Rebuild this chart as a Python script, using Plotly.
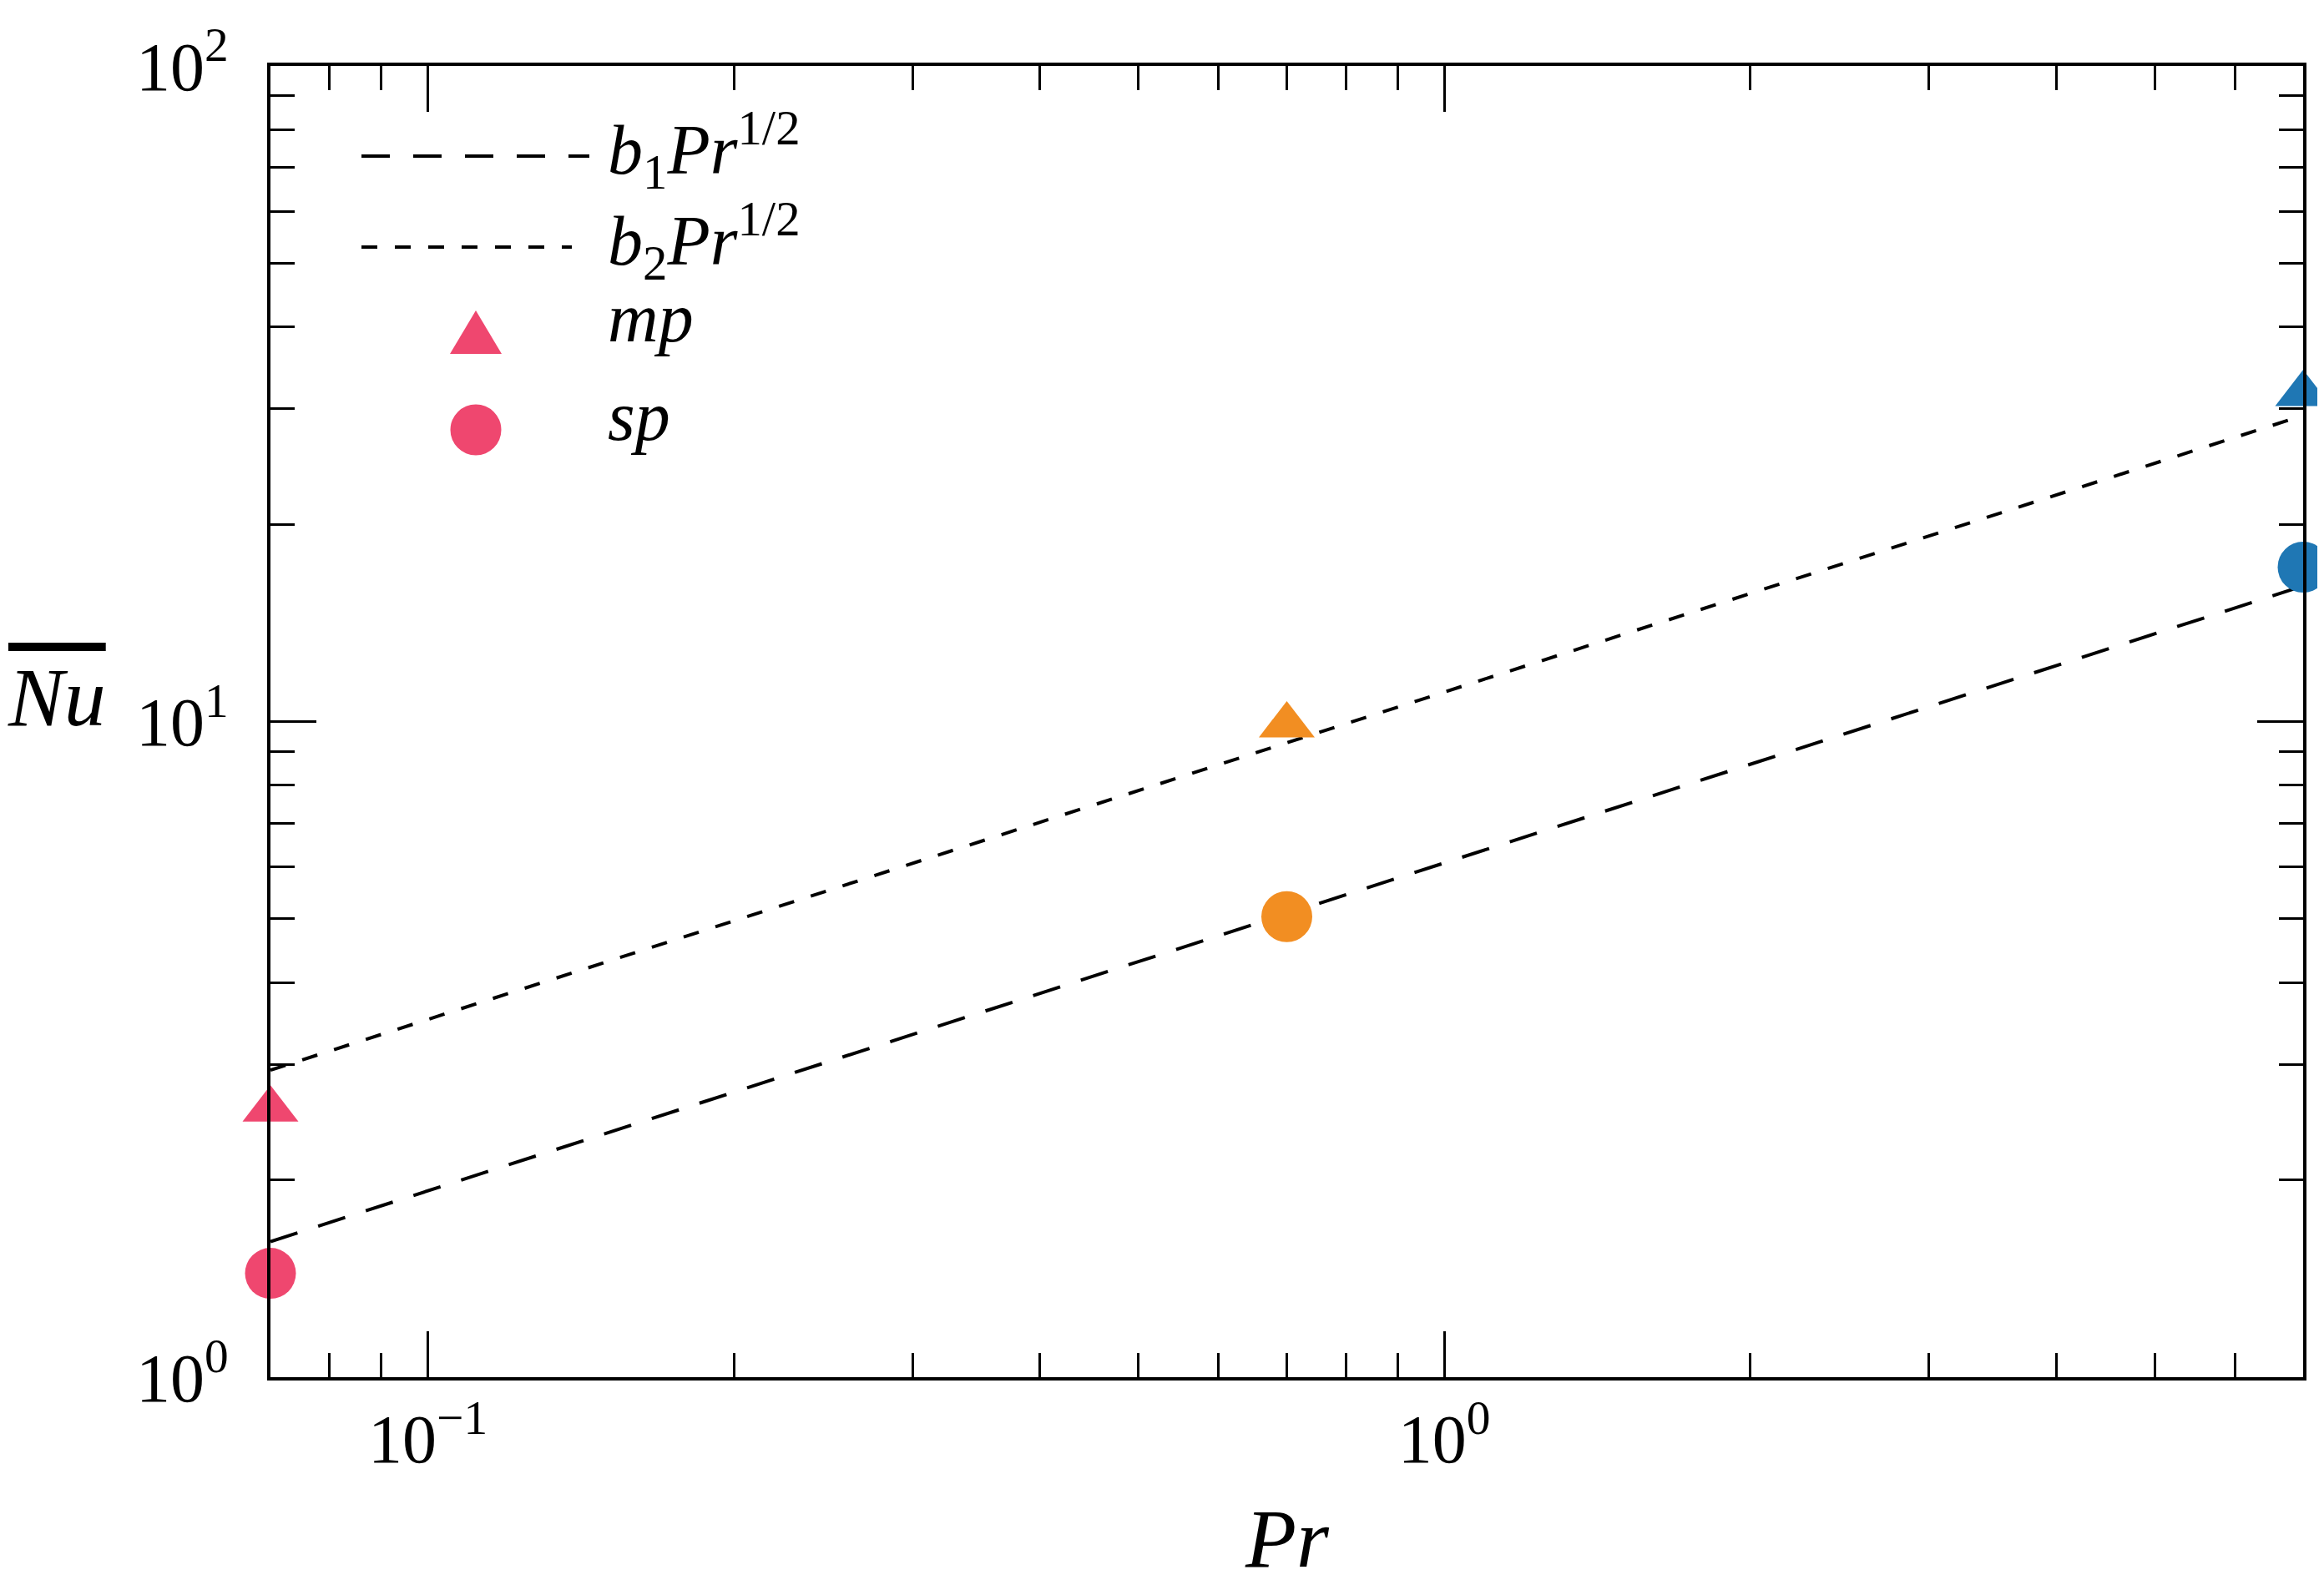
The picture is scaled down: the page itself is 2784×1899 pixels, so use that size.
import numpy as np
import plotly.graph_objects as go

# data
pr = [0.07, 0.7, 7.0]
nu_mp = [2.56, 9.87, 31.6]
nu_sp = [1.44, 5.04, 17.2]
point_colors = ["#ef476f", "#f28e22", "#1f77b4"]

pr_fit = [0.07, 7.0]
nu_b1 = [1.61, 16.1]
nu_b2 = [2.94, 29.3]

FONT = "'Liberation Serif', 'Times New Roman', Tinos, 'Nimbus Roman', serif"
W, H = 2784, 1899
L, R, T, B = 316, 33, 71, 257
pw, ph = W - L - R, H - T - B


def px(x):
    return (x - L) / pw


def py(y):
    return (H - B - y) / ph


fig = go.Figure()

fig.add_trace(go.Scatter(x=pr_fit, y=nu_b1, mode="lines",
                         line=dict(color="black", width=4, dash="34px,26px"),
                         showlegend=False, cliponaxis=False))
fig.add_trace(go.Scatter(x=pr_fit, y=nu_b2, mode="lines",
                         line=dict(color="black", width=4, dash="19px,21px"),
                         showlegend=False, cliponaxis=False))
fig.add_trace(go.Scatter(x=pr, y=nu_mp, mode="markers",
                         marker=dict(symbol="triangle-up", size=58, color=point_colors, line=dict(width=0)),
                         showlegend=False, cliponaxis=False))
fig.add_trace(go.Scatter(x=pr, y=nu_sp, mode="markers",
                         marker=dict(symbol="circle", size=61, color=point_colors, line=dict(width=0)),
                         showlegend=False, cliponaxis=False))

x_minor = [0.08, 0.09, 0.2, 0.3, 0.4, 0.5, 0.6, 0.7, 0.8, 0.9, 2, 3, 4, 5, 6]
y_minor = [2, 3, 4, 5, 6, 7, 8, 9, 20, 30, 40, 50, 60, 70, 80, 90]

axis_common = dict(
    type="log", showgrid=False, zeroline=False,
    showline=True, linecolor="black", linewidth=4, mirror="allticks",
    ticks="inside", ticklen=55, tickwidth=3, tickcolor="black",
    tickfont=dict(family=FONT, size=82, color="black"),
    minor=dict(ticks="inside", ticklen=29, tickwidth=3, tickcolor="black", showgrid=False),
)

fig.update_xaxes(
    **axis_common,
    range=[np.log10(0.07), np.log10(7.0)],
    tickvals=[0.1, 1],
    ticktext=["10<sup>\u22121</sup>", "10<sup>0</sup>"],
    ticklabelstandoff=0,
)
fig.update_xaxes(minor_tickvals=x_minor)
fig.update_yaxes(
    **axis_common,
    range=[0, 2],
    tickvals=[1, 10, 100],
    ticktext=["10<sup>0</sup>", "10<sup>1</sup>", "10<sup>2</sup>"],
    ticklabelstandoff=30,
)
fig.update_yaxes(minor_tickvals=y_minor)

# legend drawn by hand
shapes = [
    dict(type="line", xref="paper", yref="paper", x0=px(425), x1=px(698), y0=py(179), y1=py(179),
         line=dict(color="black", width=4, dash="34px,28px")),
    dict(type="line", xref="paper", yref="paper", x0=px(425), x1=px(677), y0=py(288), y1=py(288),
         line=dict(color="black", width=4, dash="19px,21px")),
    dict(type="path", xref="paper", yref="paper",
         path=f"M {px(531)} {py(416)} L {px(593)} {py(416)} L {px(562)} {py(364)} Z",
         fillcolor="#ef476f", line=dict(width=0)),
    dict(type="circle", xref="paper", yref="paper", x0=px(531.5), x1=px(592.5), y0=py(537.5), y1=py(476.5),
         fillcolor="#ef476f", line=dict(width=0)),
]
fig.update_layout(shapes=shapes)

leg_font = dict(family=FONT, size=84, color="black")
legend_labels = [
    ("<i>b</i><sub>1</sub><i>Pr</i><sup>1/2</sup>", 172),
    ("<i>b</i><sub>2</sub><i>Pr</i><sup>1/2</sup>", 281),
    ("<i>mp</i>", 372),
    ("<i>sp</i>", 490),
]
annotations = []
for text, ypix in legend_labels:
    annotations.append(dict(text=text, xref="paper", yref="paper", x=px(718), y=py(ypix),
                            xanchor="left", yanchor="middle", showarrow=False, font=leg_font))

annotations.append(dict(text="<i>Pr</i>", xref="paper", yref="paper", x=0.5, y=py(1836),
                        xanchor="center", yanchor="middle", showarrow=False,
                        font=dict(family=FONT, size=100, color="black")))
annotations.append(dict(text='<span style="text-decoration:overline"><i>Nu</i></span>',
                        xref="paper", yref="paper", x=px(60), y=py(828),
                        xanchor="center", yanchor="middle", showarrow=False,
                        font=dict(family=FONT, size=100, color="black")))
fig.update_layout(annotations=annotations)

fig.update_layout(
    width=W, height=H,
    margin=dict(l=L, r=R, t=T, b=B),
    paper_bgcolor="white", plot_bgcolor="white",
    showlegend=False,
    font=dict(family=FONT, color="black"),
)

fig.write_html("out.html")
